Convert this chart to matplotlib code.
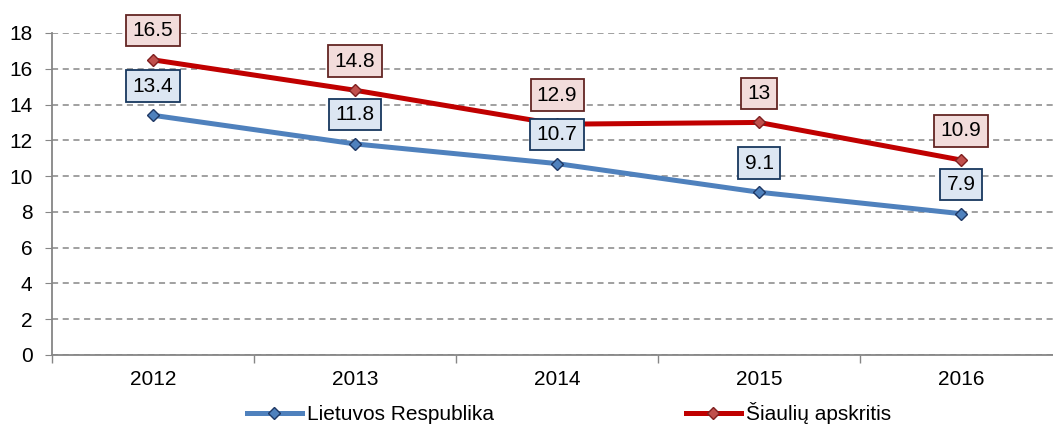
import numpy as np
import matplotlib.pyplot as plt
from matplotlib.ticker import FixedLocator, NullFormatter

plt.rcParams['font.family'] = ['Liberation Sans', 'DejaVu Sans']

years = ['2012', '2013', '2014', '2015', '2016']
lietuva = [13.4, 11.8, 10.7, 9.1, 7.9]
siauliai = [16.5, 14.8, 12.9, 13.0, 10.9]
lietuva_labels = ['13.4', '11.8', '10.7', '9.1', '7.9']
siauliai_labels = ['16.5', '14.8', '12.9', '13', '10.9']

fig = plt.figure(figsize=(10.53, 4.26), dpi=100)
ax = fig.add_axes([52 / 1053, 71 / 426, 1010 / 1053, 322 / 426])

x = np.arange(len(years))
blue_line, = ax.plot(x, lietuva, color='#4F81BD', lw=3.6, marker='D', ms=6,
                     mfc='#4F81BD', mec='#1F3864', mew=1, zorder=3,
                     label='Lietuvos Respublika')
red_line, = ax.plot(x, siauliai, color='#C00000', lw=3.6, marker='D', ms=6,
                    mfc='#C0504D', mec='#7F1F1F', mew=1, zorder=3,
                    label='Šiaulių apskritis')

# data labels above the points
for xi, v, s in zip(x, lietuva, lietuva_labels):
    ax.annotate(s, (xi, v), xytext=(0, 21), textcoords='offset points',
                ha='center', va='center', fontsize=15,
                bbox=dict(boxstyle='square,pad=0.3', fc='#DCE6F2', ec='#17375E', lw=1.3),
                zorder=4)
for xi, v, s in zip(x, siauliai, siauliai_labels):
    ax.annotate(s, (xi, v), xytext=(0, 21), textcoords='offset points',
                ha='center', va='center', fontsize=15,
                bbox=dict(boxstyle='square,pad=0.3', fc='#F2DCDB', ec='#632523', lw=1.3),
                zorder=4)

ax.set_xlim(-0.5, 4.5)
ax.set_ylim(0, 18)
ax.set_yticks(range(0, 19, 2))
ax.set_xticks(x)
ax.set_xticklabels(years)
ax.xaxis.set_minor_locator(FixedLocator(np.arange(-0.5, 5, 1)))
ax.xaxis.set_minor_formatter(NullFormatter())
ax.tick_params(axis='x', which='major', length=0, pad=11, labelsize=15)
ax.tick_params(axis='x', which='minor', length=6, color='#868686', width=1)
ax.tick_params(axis='y', length=5, color='#868686', labelsize=15, pad=9)

ax.grid(axis='y', color='#868686', ls=(0, (4, 3)), lw=1.1)
ax.set_axisbelow(True)
for side in ['top', 'right']:
    ax.spines[side].set_visible(False)
for side in ['left', 'bottom']:
    ax.spines[side].set_color('#868686')
    ax.spines[side].set_linewidth(1.3)

fig.legend(handles=[blue_line, red_line], loc='center', ncol=2,
           bbox_to_anchor=(569 / 1053, 1 - 413 / 426), frameon=False,
           fontsize=15, handlelength=2.65, handletextpad=0.25,
           columnspacing=9.2, borderaxespad=0)

fig.savefig('out.png', dpi=100)
